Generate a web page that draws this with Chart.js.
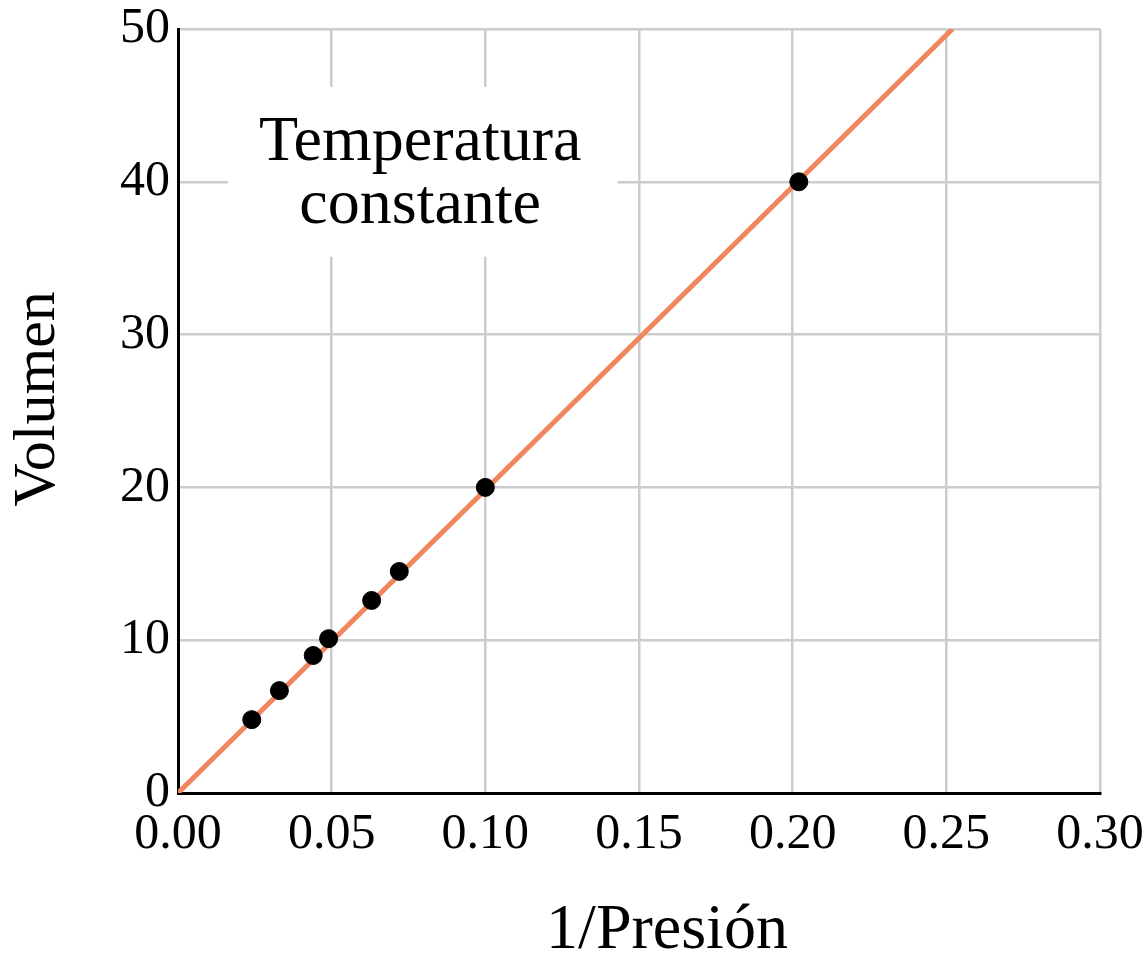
<!DOCTYPE html>
<html>
<head>
<meta charset="utf-8">
<script src="https://cdn.jsdelivr.net/npm/chart.js@4"></script>
<style>
  html, body { margin: 0; padding: 0; background: #fff; }
</style>
</head>
<body>
<canvas id="chart" width="1145" height="960"></canvas>
<script>
// measured points (1/P, V)
const invPressure = [0.024, 0.033, 0.044, 0.049, 0.063, 0.072, 0.100, 0.202];
const volume = [4.8, 6.7, 9.0, 10.1, 12.6, 14.5, 20.0, 40.0];
// fitted line end points
const fitX = [0, 0.252];
const fitY = [0, 50];
const xTitle = '1/Presión';
const yTitle = 'Volumen';
const noteLines = ['Temperatura', 'constante'];

const serif = '"Liberation Serif", "Times New Roman", serif';

// draws the white note box, its text, and the two axis titles
const notePlugin = {
  id: 'note',
  afterDatasetsDraw(chart) {
    const ctx = chart.ctx;
    const x = chart.scales.x, y = chart.scales.y;
    const area = chart.chartArea;
    ctx.save();
    // white box hides the grid behind the note
    const l = x.getPixelForValue(0.0163), r = x.getPixelForValue(0.143);
    const t = y.getPixelForValue(46.2), b = y.getPixelForValue(35.1);
    ctx.fillStyle = '#fff';
    ctx.fillRect(l, t, r - l, b - t);
    ctx.fillStyle = '#000';
    ctx.font = '64px ' + serif;
    ctx.textAlign = 'center';
    ctx.textBaseline = 'alphabetic';
    const cx = x.getPixelForValue(0.0788);
    ctx.fillText(noteLines[0], cx, y.getPixelForValue(41.4));
    ctx.fillText(noteLines[1], cx, y.getPixelForValue(37.3));

    // axis titles
    ctx.textBaseline = 'middle';
    ctx.font = '64px ' + serif;
    ctx.fillText(xTitle, (area.left + area.right) / 2 + 28, area.bottom + 138);
    ctx.font = '60px ' + serif;
    ctx.translate(38, (area.top + area.bottom) / 2 - 12);
    ctx.rotate(-Math.PI / 2);
    ctx.fillText(yTitle, 0, 0);
    ctx.restore();
  }
};

new Chart(document.getElementById('chart').getContext('2d'), {
  type: 'scatter',
  data: {
    datasets: [
      {
        label: 'puntos',
        data: invPressure.map((v, i) => ({ x: v, y: volume[i] })),
        backgroundColor: '#000',
        borderColor: '#000',
        pointRadius: 9,
        pointHoverRadius: 9,
        order: 0
      },
      {
        label: 'ajuste',
        data: fitX.map((v, i) => ({ x: v, y: fitY[i] })),
        showLine: true,
        borderColor: '#f0865e',
        borderWidth: 5,
        pointRadius: 0,
        fill: false,
        order: 1
      }
    ]
  },
  options: {
    responsive: false,
    animation: false,
    devicePixelRatio: 1,
    layout: { padding: { top: 29, right: 45, left: 0, bottom: 0 } },
    plugins: {
      legend: { display: false },
      tooltip: { enabled: false }
    },
    scales: {
      x: {
        type: 'linear',
        min: 0,
        max: 0.3,
        afterFit: s => { s.height = 167; s.paddingLeft = 0; s.paddingRight = 0; },
        ticks: {
          stepSize: 0.05,
          padding: 12,
          color: '#000',
          font: { family: serif, size: 50 },
          callback: v => v.toFixed(2),
          maxRotation: 0
        },
        grid: { color: '#cccccc', lineWidth: 2.5, drawTicks: false },
        border: { color: '#000', width: 3 }
      },
      y: {
        min: 0,
        max: 50,
        afterFit: s => { s.width = 178; s.paddingTop = 0; s.paddingBottom = 0; },
        ticks: {
          stepSize: 10,
          padding: 8,
          color: '#000',
          font: { family: serif, size: 50 }
        },
        grid: { color: '#cccccc', lineWidth: 2.5, drawTicks: false },
        border: { color: '#000', width: 3 }
      }
    }
  },
  plugins: [notePlugin]
});
</script>
</body>
</html>
